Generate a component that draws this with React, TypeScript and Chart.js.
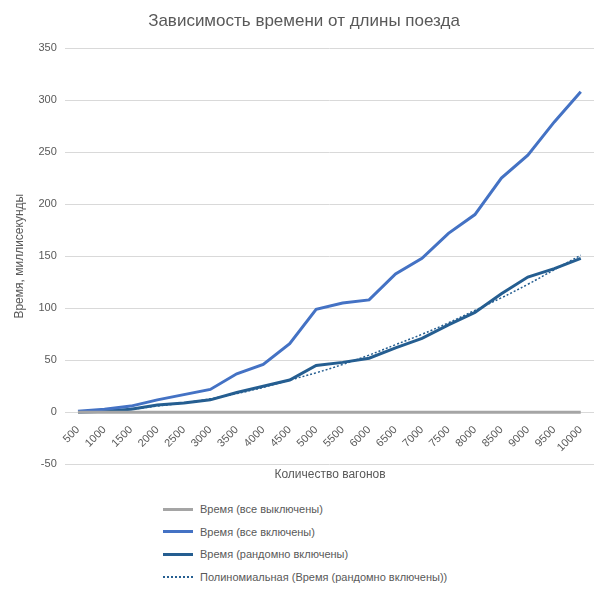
import React, { useEffect, useRef } from "react";
import { Chart, registerables } from "chart.js";
Chart.register(...registerables);

const categories = ["500","1000","1500","2000","2500","3000","3500","4000","4500","5000","5500","6000","6500","7000","7500","8000","8500","9000","9500","10000"];
const allOff = [0,0,0,0,0,0,0,0,0,0,0,0,0,0,0,0,0,0,0,0];
const allOn = [1,3,6,12,17,22,37,46,66,99,105,108,133,148,172,190,225,247,279,308];
const randomOn = [0,1,3,7,9,12,19,25,31,45,48,52,62,71,84,96,114,130,138,148];
const polyTrend = [0,1,3,6,9,13,18,24,31,38,46,55,65,75,86,98,110,123,137,151];

const FONT = "'Liberation Sans', Arial, sans-serif";
const TXT = "#595959";

const legendItems = [
  { label: "Время (все выключены)", color: "#a5a5a5", dash: false, w: 3 },
  { label: "Время (все включены)", color: "#4472c4", dash: false, w: 3 },
  { label: "Время (рандомно включены)", color: "#255e91", dash: false, w: 3 },
  { label: "Полиномиальная (Время (рандомно включены))", color: "#255e91", dash: true, w: 2 },
];

export default function App() {
  const ref = useRef<HTMLCanvasElement>(null);
  useEffect(() => {
    const chart = new Chart(ref.current!, {
      type: "line",
      data: {
        labels: categories,
        datasets: [
          { data: allOff, borderColor: "#a5a5a5", borderWidth: 3, pointRadius: 0 },
          { data: allOn, borderColor: "#4472c4", borderWidth: 3, pointRadius: 0 },
          { data: randomOn, borderColor: "#255e91", borderWidth: 3, pointRadius: 0 },
          { data: polyTrend, borderColor: "#255e91", borderWidth: 1.5, borderDash: [2, 2], pointRadius: 0, tension: 0.4 },
        ],
      },
      options: {
        animation: false,
        responsive: false,
        layout: { padding: { top: 48, bottom: 7, right: 14, left: 8 } },
        plugins: { legend: { display: false }, tooltip: { enabled: false } },
        scales: {
          x: {
            position: { y: 0 } as any,
            offset: true,
            grid: { display: false },
            border: { display: false },
            ticks: { color: TXT, font: { family: FONT, size: 11 }, maxRotation: 45, minRotation: 45, autoSkip: false },
          },
          y: {
            min: -50, max: 350,
            ticks: { stepSize: 50, color: TXT, font: { family: FONT, size: 11 }, padding: 8 },
            grid: { color: "#d9d9d9", drawTicks: false },
            border: { display: false },
            title: { display: true, text: "Время, миллисекунды", color: TXT, font: { family: FONT, size: 12 } },
          },
        },
      },
    });
    return () => chart.destroy();
  }, []);
  return (
    <div style={{ position: "absolute", left: 0, top: 0, width: 608, height: 595, background: "#fff", fontFamily: FONT }}>
      <canvas ref={ref} width={608} height={479} style={{ position: "absolute", left: 0, top: 0 }} />
      <div style={{ position: "absolute", top: 11, width: 608, textAlign: "center", fontSize: 17, color: TXT }}>
        Зависимость времени от длины поезда
      </div>
      <div style={{ position: "absolute", top: 467, left: 0, width: 660, textAlign: "center", fontSize: 12, color: TXT }}>
        Количество вагонов
      </div>
      {legendItems.map((it, i) => (
        <div key={i} style={{ position: "absolute", left: 163, top: 502 + i * 22.5, height: 14, display: "flex", alignItems: "center", fontSize: 11, color: TXT }}>
          <div style={{ width: 30, height: 0, borderTop: `${it.w}px ${it.dash ? "dotted" : "solid"} ${it.color}`, marginRight: 7 }} />
          {it.label}
        </div>
      ))}
    </div>
  );
}
